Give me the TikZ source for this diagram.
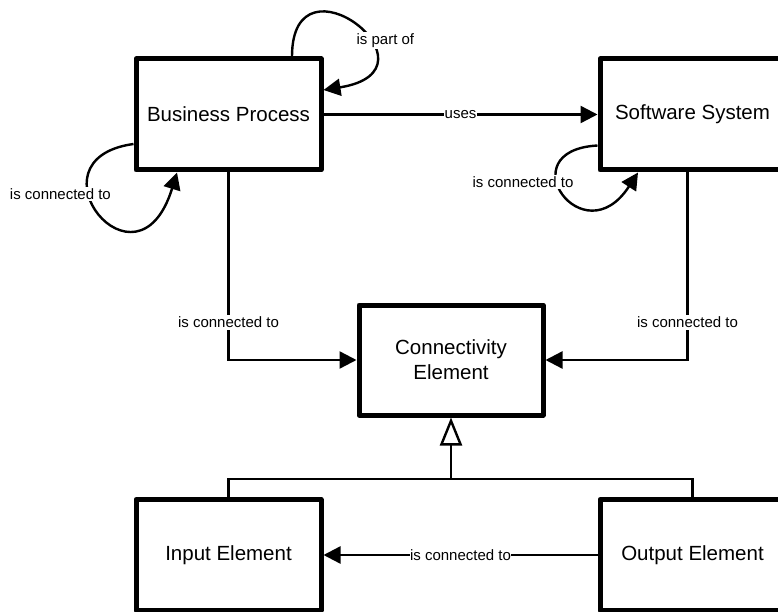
\documentclass[tikz,border=0pt]{standalone}
\usepackage{fontspec}
\setmainfont{Liberation Sans}
\usetikzlibrary{arrows.meta,calc}

\tikzset{
  box/.style={draw, line width=5pt, line join=round, minimum width=185pt,
    minimum height=111pt, align=center, inner sep=2pt,
    font=\fontsize{20.5}{25}\selectfont},
  conn/.style={line width=2.4pt, -{Triangle[length=17pt,width=17pt]}},
  plain/.style={line width=2.4pt},
  lab/.style={fill=white, inner sep=1.5pt, font=\fontsize{15}{17}\selectfont},
  genarrow/.style={line width=2.4pt, -{Triangle[open,length=28pt,width=22pt]}}
}

\begin{document}
\begin{tikzpicture}[x=1pt,y=1pt]
  \useasboundingbox (0,0) rectangle (778,611);
  % Boxes
  \node[box] (bp) at (228.5,496.5) {Business Process};
  \node[box] (ss) at (692.5,496.5) {Software System};
  \node[box, minimum width=184pt, minimum height=110pt] (ce) at (451,251) {Connectivity\\Element};
  \node[box] (ie) at (228.5,56) {Input Element};
  \node[box] (oe) at (692.5,56) {Output Element};
  % Associations
  \draw[conn] (bp.east) -- node[lab, inner sep=0.5pt] {uses} (ss.west);
  \draw[conn] (bp.south) |- node[lab, pos=0.4] {is connected to} (ce.west);
  \draw[conn] ([xshift=-5pt]ss.south) |- node[lab, pos=0.4] {is connected to} (ce.east);
  \draw[conn] (oe.west) -- node[lab, inner sep=0.5pt] {is connected to} (ie.east);
  % Self loops
  \draw[conn] ([xshift=63.5pt]bp.north) .. controls +(0,110) and +(125,20) .. ([yshift=24.5pt]bp.east)
    node[lab, pos=0.6, xshift=19pt, yshift=-3pt] {is part of};
  \draw[conn] ([yshift=-29.5pt]bp.west) .. controls +(-110,-15) and +(-40,-130) .. ([xshift=-51.5pt]bp.south)
    node[lab, pos=0.35, xshift=-27pt, yshift=-4pt] {is connected to};
  \draw[conn] ([yshift=-31pt]ss.west) .. controls +(-90,-5) and +(-55,-85) .. ([xshift=-54.5pt]ss.south)
    node[lab, pos=0.4, xshift=-34pt] {is connected to};
  % Generalisation
  \coordinate (gen) at (ce.south |- 0,132);
  \draw[plain] (ie.north) |- (gen) -| (oe.north);
  \draw[genarrow] (gen) -- (ce.south);
\end{tikzpicture}
\end{document}
